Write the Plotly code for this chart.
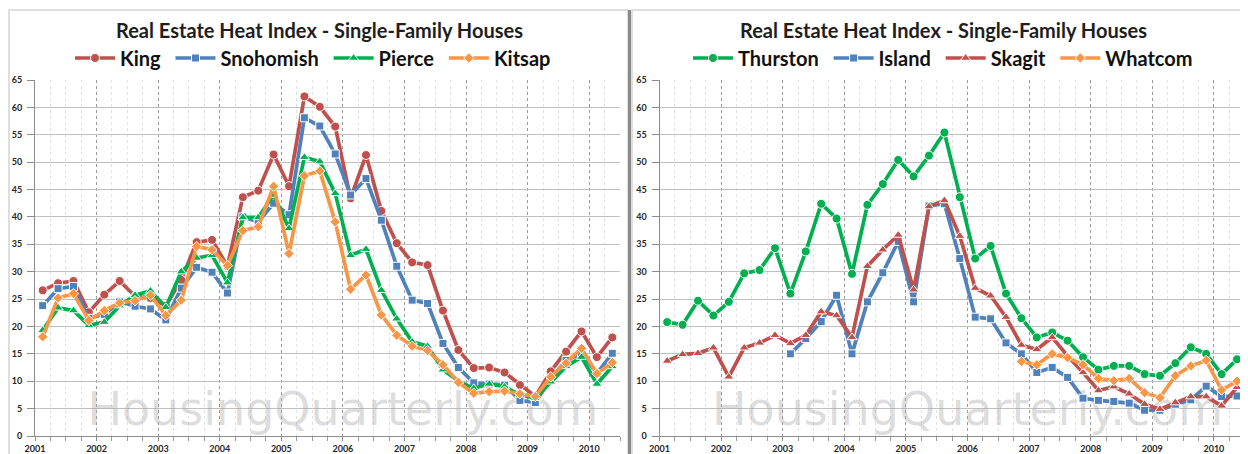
import plotly.graph_objects as go

# ---------------- data ----------------
years = list(range(2001, 2011))
year_labels = [str(y) for y in years]
# quarterly observations 2001 Q1 .. 2010 Q2
quarter_year = [y for y in range(2001, 2011) for q in range(4)][:38]
quarter_num = [q for y in range(2001, 2011) for q in range(1, 5)][:38]

king = [26.6, 27.9, 28.3, 22.6, 25.8, 28.3, 25.5, 25.2, 23.8, 28.5,
        35.4, 35.8, 31.0, 43.6, 44.8, 51.4, 45.6, 62.0, 60.1, 56.5,
        43.4, 51.3, 41.1, 35.2, 31.7, 31.2, 22.9, 15.7, 12.4, 12.5,
        11.6, 9.3, 7.2, 11.8, 15.4, 19.1, 14.4, 18.0]
snohomish = [23.8, 26.9, 27.3, 21.5, 22.2, 24.5, 23.7, 23.2, 21.2, 27.0,
             30.8, 29.9, 26.1, 40.0, 39.1, 42.5, 40.4, 58.1, 56.6, 51.5,
             44.0, 47.0, 39.4, 31.0, 24.8, 24.2, 16.9, 12.5, 9.7, 9.5,
             9.3, 6.5, 6.1, 10.5, 13.8, 15.1, 11.4, 15.1]
pierce = [19.3, 23.4, 22.9, 20.2, 20.8, 23.8, 25.7, 26.5, 23.5, 30.0,
          32.5, 33.0, 28.0, 39.9, 39.9, 44.0, 37.9, 50.9, 50.1, 44.3,
          33.0, 34.1, 26.6, 21.4, 17.2, 16.4, 12.1, 10.0, 8.7, 9.5,
          9.0, 7.5, 6.9, 9.9, 12.7, 14.4, 9.5, 12.7]
kitsap = [18.1, 25.2, 26.0, 21.1, 22.9, 24.3, 24.7, 25.7, 22.0, 24.8,
          34.6, 34.0, 31.1, 37.5, 38.2, 45.6, 33.3, 47.5, 48.4, 39.1,
          26.8, 29.4, 22.1, 18.4, 16.4, 15.6, 13.0, 9.8, 7.8, 8.1,
          8.2, 7.7, 7.2, 10.8, 13.3, 16.0, 11.4, 13.4]

thurston = [20.8, 20.3, 24.7, 22.0, 24.5, 29.7, 30.3, 34.3, 26.0, 33.7,
            42.4, 39.7, 29.6, 42.2, 46.0, 50.4, 47.4, 51.2, 55.4, 43.6,
            32.4, 34.7, 26.0, 21.5, 18.0, 18.9, 17.4, 14.4, 12.1, 12.8,
            12.8, 11.3, 11.0, 13.3, 16.2, 15.0, 11.3, 14.0]
island = [None, None, None, None, None, None, None, None, 15.0, 17.8,
          20.9, 25.7, 15.0, 24.5, 29.8, 35.5, 24.5, 42.0, 42.4, 32.4,
          21.7, 21.4, 17.0, 15.0, 11.6, 12.5, 10.7, 6.9, 6.5, 6.3,
          6.0, 4.7, 4.7, 5.8, 6.6, 9.1, 7.2, 7.3]
skagit = [13.7, 14.9, 15.1, 16.1, 10.8, 16.1, 17.0, 18.4, 16.9, 18.4,
          22.7, 22.0, 18.0, 31.0, 34.0, 36.7, 26.7, 41.9, 43.0, 36.5,
          27.0, 25.6, 21.7, 16.6, 15.8, 18.0, 14.6, 11.6, 8.3, 9.0,
          7.7, 5.8, 4.9, 6.1, 7.2, 7.2, 5.5, 8.9]
whatcom = [None] * 23 + [13.6, 13.0, 15.0, 14.3, 13.0, 10.5, 10.1, 10.5,
                         7.9, 7.0, 11.0, 12.8, 13.8, 8.4, 10.0]

title_text = "Real Estate Heat Index - Single-Family Houses"
watermark = "HousingQuarterly.com"

# x position of each quarter: middle of the quarter on a numeric year axis
xq = [y + (q - 0.5) / 4 for y, q in zip(quarter_year, quarter_num)]

RED, BLUE, GREEN, ORANGE = "#C0504D", "#4F81BD", "#00B050", "#F79646"

# the page body has an 8px margin, so the figure is placed at (8, 8)
OFF = 8
W, H = 1240, 446
def fx(p):
    return (p - OFF) / W
def fy(p):
    return 1 - (p - OFF) / H

fig = go.Figure()

# watermark (drawn first so data lines sit above it)
for xa, ya in (("x", "y"), ("x2", "y2")):
    fig.add_trace(go.Scatter(
        x=[2006.0], y=[4.2], mode="text", text=[watermark],
        textfont=dict(family="DejaVu Sans", size=46, color="rgba(165,165,165,0.38)"),
        textposition="middle center", showlegend=False, hoverinfo="skip",
        xaxis=xa, yaxis=ya))

SP = "\u00a0"
left_series = [("King" + SP, king, RED, "circle", 9),
               ("Snohomish" + SP, snohomish, BLUE, "square", 8),
               ("Pierce" + SP, pierce, GREEN, "triangle-up", 9),
               ("Kitsap", kitsap, ORANGE, "diamond", 8)]
right_series = [("Thurston" + SP, thurston, GREEN, "circle", 9),
                ("Island" + SP, island, BLUE, "square", 8),
                ("Skagit" + SP, skagit, RED, "triangle-up", 9),
                ("Whatcom", whatcom, ORANGE, "diamond", 8)]

for name, vals, col, sym, sz in left_series:
    fig.add_trace(go.Scatter(
        x=xq, y=vals, name=name, mode="lines+markers",
        line=dict(color=col, width=3.7),
        marker=dict(symbol=sym, size=sz, color=col, line=dict(color="white", width=1)),
        xaxis="x", yaxis="y", legend="legend"))
for name, vals, col, sym, sz in right_series:
    fig.add_trace(go.Scatter(
        x=xq, y=vals, name=name, mode="lines+markers",
        line=dict(color=col, width=3.7),
        marker=dict(symbol=sym, size=sz, color=col, line=dict(color="white", width=1)),
        xaxis="x2", yaxis="y2", legend="legend2"))

tickfont = dict(family="Lato", size=9, color="#262626", weight="bold")

def xaxis_cfg(d0, d1, anchor):
    return dict(domain=[fx(d0), fx(d1)], range=[2001, 2010.5], anchor=anchor,
                tickmode="array", tickvals=years, ticktext=year_labels,
                showgrid=True, gridcolor="#9A9A9A", griddash="dot", gridwidth=1,
                minor=dict(tick0=2001, dtick=0.25, showgrid=True, gridcolor="#E2E2E2",
                           gridwidth=1, ticks="outside", ticklen=4, tickcolor="#9A9A9A"),
                showline=True, linecolor="#8C8C8C", linewidth=1,
                ticks="outside", ticklen=4, tickcolor="#8C8C8C",
                tickfont=tickfont, zeroline=False, fixedrange=True,
                automargin=False)

def yaxis_cfg(anchor):
    return dict(domain=[fy(436), fy(80)], range=[0, 65], anchor=anchor,
                tickmode="linear", tick0=0, dtick=5,
                showgrid=True, gridcolor="#C0C0C0", gridwidth=1.3,
                showline=True, linecolor="#8C8C8C", linewidth=1,
                ticks="outside", ticklen=7, tickcolor="#8C8C8C",
                tickfont=tickfont, zeroline=False, fixedrange=True,
                automargin=False, ticklabelstandoff=3)

legend_font = dict(family="Lato", size=20, color="#111111", weight="bold")

fig.update_layout(
    width=W, height=H,
    margin=dict(l=0, r=0, t=0, b=0),
    paper_bgcolor="white", plot_bgcolor="white",
    template="none",
    xaxis=xaxis_cfg(35, 620, "y"),
    yaxis=yaxis_cfg("x"),
    xaxis2=xaxis_cfg(659.5, 1244.7, "y2"),
    yaxis2=yaxis_cfg("x2"),
    legend=dict(orientation="h", x=fx(313), xanchor="center", y=fy(58), yanchor="middle",
                font=legend_font, bgcolor="rgba(0,0,0,0)", itemclick=False,
                itemdoubleclick=False, tracegroupgap=0, itemwidth=40),
    legend2=dict(orientation="h", x=fx(943), xanchor="center", y=fy(58), yanchor="middle",
                 font=legend_font, bgcolor="rgba(0,0,0,0)", itemclick=False,
                 itemdoubleclick=False, tracegroupgap=0, itemwidth=40),
    showlegend=True,
    hovermode=False,
)

for cx in (319, 943):
    fig.add_annotation(text="<b>" + title_text + "</b>", x=fx(cx), y=fy(30),
                       xref="paper", yref="paper", xanchor="center", yanchor="middle",
                       showarrow=False,
                       font=dict(family="Lato", size=20, color="#1E1E1E"))

# panel frames
frame_line = dict(color="#D4D4D4", width=1.5)
fig.add_shape(type="rect", xref="paper", yref="paper",
              x0=fx(9), x1=fx(628), y0=fy(460), y1=fy(10), line=frame_line, layer="below")
fig.add_shape(type="rect", xref="paper", yref="paper",
              x0=fx(632), x1=fx(1246), y0=fy(460), y1=fy(10), line=frame_line, layer="below")
fig.add_shape(type="line", xref="paper", yref="paper",
              x0=fx(629.5), x1=fx(629.5), y0=fy(460), y1=fy(10),
              line=dict(color="#8A8A8A", width=3))

fig.write_html("out.html")
